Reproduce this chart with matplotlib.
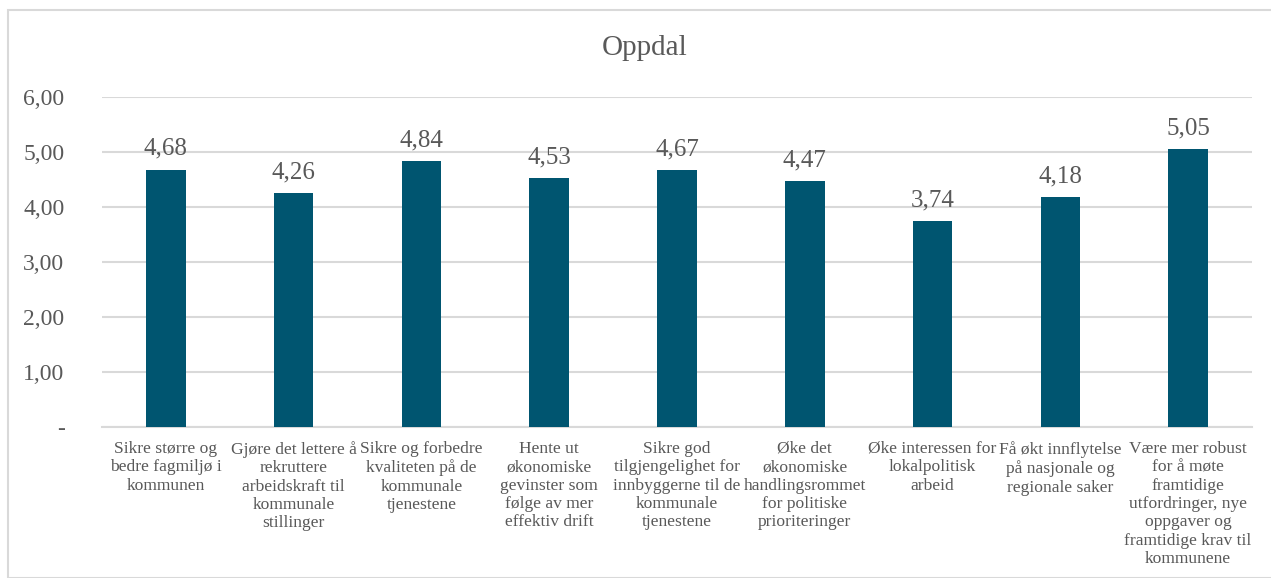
import matplotlib
matplotlib.use("Agg")
import matplotlib.pyplot as plt
from matplotlib.patches import Rectangle

categories = [
    "Sikre større og\nbedre fagmiljø i\nkommunen",
    "Gjøre det lettere å\nrekruttere\narbeidskraft til\nkommunale\nstillinger",
    "Sikre og forbedre\nkvaliteten på de\nkommunale\ntjenestene",
    "Hente ut\nøkonomiske\ngevinster som\nfølge av mer\neffektiv drift",
    "Sikre god\ntilgjengelighet for\ninnbyggerne til de\nkommunale\ntjenestene",
    "Øke det\nøkonomiske\nhandlingsrommet\nfor politiske\nprioriteringer",
    "Øke interessen for\nlokalpolitisk\narbeid",
    "Få økt innflytelse\npå nasjonale og\nregionale saker",
    "Være mer robust\nfor å møte\nframtidige\nutfordringer, nye\noppgaver og\nframtidige krav til\nkommunene",
]
values = [4.68, 4.26, 4.84, 4.53, 4.67, 4.47, 3.74, 4.18, 5.05]
yticks = [0, 1, 2, 3, 4, 5, 6]
ytick_labels = ["-", "1,00", "2,00", "3,00", "4,00", "5,00", "6,00"]
title = "Oppdal"

bar_color = "#005570"
text_color = "#595959"
grid_color = "#D9D9D9"
plt.rcParams["font.family"] = ["Liberation Serif", "DejaVu Serif"]

W, H = 1271, 578
fig = plt.figure(figsize=(W / 100, H / 100), dpi=100)
fig.patches.append(Rectangle((8 / W, 0), 1.2, 1 - 10 / H, transform=fig.transFigure,
                             fill=False, edgecolor=grid_color, linewidth=1.5))

left, right, top, bottom = 102, 1252, 97, 427
ax = fig.add_axes([left / W, 1 - bottom / H, (right - left) / W, (bottom - top) / H])
x = list(range(len(values)))
ax.bar(x, values, width=0.31, color=bar_color, zorder=3)
ax.set_xlim(-0.5, len(values) - 0.5)
ax.set_ylim(0, 6)
ax.set_yticks(yticks)
ax.set_yticklabels(ytick_labels, fontsize=17, color=text_color)
ax.yaxis.grid(True, color=grid_color, linewidth=1.5, zorder=0)
ax.set_axisbelow(True)
for s in ["top", "right", "left"]:
    ax.spines[s].set_visible(False)
ax.spines["bottom"].set_color(grid_color)
ax.spines["bottom"].set_linewidth(1.5)
ax.tick_params(axis="y", length=0, pad=27)
ax.tick_params(axis="x", length=0, pad=10)
ax.set_xticks(x)
ax.set_xticklabels(categories, fontsize=12.6, color=text_color, linespacing=1.2, va="top")

for xi, v in zip(x, values):
    ax.annotate(f"{v:.2f}".replace(".", ","), (xi, v), xytext=(0, 7), textcoords="offset points",
                ha="center", va="bottom", fontsize=18, color=text_color)

fig.text(645 / W, 1 - 48 / H, title, ha="center", va="center", fontsize=21, color=text_color)

fig.savefig("out.png", dpi=100, facecolor="white")
